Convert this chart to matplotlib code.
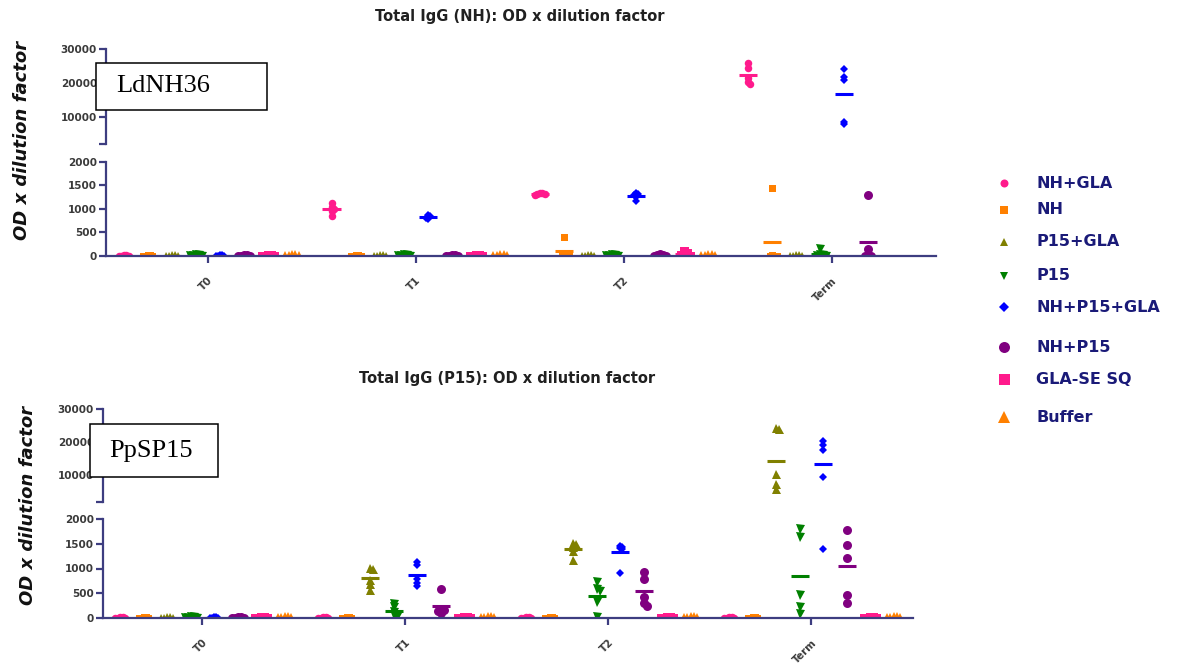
import numpy as np
import matplotlib
matplotlib.use("Agg")
import matplotlib.pyplot as plt
from matplotlib.patches import Rectangle

# ---------------- data ----------------
timepoints = ["T0", "T1", "T2", "Term"]
groups = ["NH+GLA", "NH", "P15+GLA", "P15", "NH+P15+GLA", "NH+P15", "GLA-SE SQ", "Buffer"]

# Total IgG (NH) – each group: list of values per timepoint (T0, T1, T2, Term)
nh_nh_gla   = [[20, 15, 10, 5, 0], [1130, 1050, 1000, 950, 850], [1345, 1330, 1320, 1310, 1300], [25800, 24300, 21500, 20400, 19800]]
nh_nh       = [[20, 15, 10, 5, 0], [20, 15, 10, 5, 0], [400, 40, 30, 20, 10], [1450, 20, 10, 5, 0]]
nh_p15_gla  = [[20, 15, 10, 5, 0], [20, 15, 10, 5, 0], [20, 15, 10, 5, 0], [20, 15, 10, 5, 0]]
nh_p15      = [[20, 15, 10, 5, 0], [20, 15, 10, 5, 0], [20, 15, 10, 5, 0], [150, 30, 20, 10, 5]]
nh_nh_p15_gla = [[20, 15, 10, 5, 0], [880, 850, 830, 810, 780], [1330, 1310, 1290, 1260, 1160], [24100, 21800, 20900, 8500, 7900]]
nh_nh_p15   = [[20, 15, 10, 5, 0], [20, 15, 10, 5, 0], [40, 30, 20, 10, 5], [1300, 150, 20, 5, 0]]
nh_gla_se   = [[20, 15, 10, 5, 0], [20, 15, 10, 5, 0], [110, 70, 40, 20, 10], []]
nh_buffer   = [[20, 15, 10, 5, 0], [20, 15, 10, 5, 0], [20, 15, 10, 5, 0], []]

# Total IgG (P15)
p15_nh_gla   = [[20, 15, 10, 5, 0], [20, 15, 10, 5, 0], [20, 15, 10, 5, 0], [20, 15, 10, 5, 0]]
p15_nh       = [[20, 15, 10, 5, 0], [20, 15, 10, 5, 0], [20, 15, 10, 5, 0], [20, 15, 10, 5, 0]]
p15_p15_gla  = [[20, 15, 10, 5, 0], [1010, 990, 760, 680, 560], [1520, 1500, 1440, 1350, 1180], [24300, 23900, 10300, 7400, 5900]]
p15_p15      = [[20, 15, 10, 5, 0], [280, 220, 130, 60, 20], [730, 590, 550, 320, 30], [1800, 1640, 470, 220, 80]]
p15_nh_p15_gla = [[20, 15, 10, 5, 0], [1140, 1080, 780, 700, 640], [1460, 1440, 1420, 1400, 900], [20300, 19100, 17700, 9400, 1400]]
p15_nh_p15   = [[20, 15, 10, 5, 0], [580, 190, 170, 140, 110], [930, 790, 420, 300, 250], [1780, 1480, 1210, 470, 300]]
p15_gla_se   = [[20, 15, 10, 5, 0], [20, 15, 10, 5, 0], [20, 15, 10, 5, 0], [20, 15, 10, 5, 0]]
p15_buffer   = [[20, 15, 10, 5, 0], [20, 15, 10, 5, 0], [20, 15, 10, 5, 0], [20, 15, 10, 5, 0]]

nh_data = [nh_nh_gla, nh_nh, nh_p15_gla, nh_p15, nh_nh_p15_gla, nh_nh_p15, nh_gla_se, nh_buffer]
p15_data = [p15_nh_gla, p15_nh, p15_p15_gla, p15_p15, p15_nh_p15_gla, p15_nh_p15, p15_gla_se, p15_buffer]

BREAK = 2000
lower_ticks = [0, 500, 1000, 1500, 2000]
upper_ticks = [2000, 10000, 20000, 30000]
upper_labels = ["", "10000", "20000", "30000"]

# ---------------- styles ----------------
colors = ["#FF1A8C", "#FF8000", "#808000", "#008000", "#0000FF", "#800080", "#FF1A8C", "#FF8000"]
markers = ["o", "s", "^", "v", "D", "o", "s", "^"]
msizes = [7.5, 7, 9, 9, 6, 9, 9, 10.5]       # px marker size in plot
leg_sizes = [8, 8, 8.5, 8.5, 6.5, 11, 11, 12.5]  # px in legend
axis_col = "#3d3d80"
tick_lab_col = "#3a3a3a"
legend_col = "#1a1a78"

W, H = 1188, 670
fig = plt.figure(figsize=(W / 100, H / 100), dpi=100)


def fax(x0, y0, x1, y1):
    """axes from pixel box (top-left origin)"""
    return fig.add_axes([x0 / W, 1 - y1 / H, (x1 - x0) / W, (y1 - y0) / H])


def px2pt(px):
    return px * 72 / 100


def swarm(vals, ypix, d):
    ys = [ypix(v) for v in vals]
    order = np.argsort(ys)[::-1]
    step = 0.33 * d
    placed, offs = [], np.zeros(len(vals))
    ks = [0]
    for k in range(1, 30):
        ks += [k, -k]
    for i in order:
        for k in ks:
            dx = k * step
            if all(np.hypot(dx - px, ys[i] - py) >= step * 0.999 for px, py in placed):
                break
        placed.append((dx, ys[i]))
        offs[i] = dx
    return offs


def panel(data, xl, xr, y_top, y_ub, y_lt, y_bot, title, title_xy, ylab_xy, box, boxtext, textx):
    ax_u = fax(xl, y_top, xr, y_ub)
    ax_l = fax(xl, y_lt, xr, y_bot)
    xlim = (-0.49, 3.5)
    ppu = (xr - xl) / (xlim[1] - xlim[0])
    hl = y_bot - y_lt
    hu = y_ub - y_top
    gap = y_lt - y_ub

    def ypix(v):
        if v <= BREAK:
            return v / BREAK * hl
        return hl + gap + (v - BREAK) / (30000 - BREAK) * hu

    slot = 0.1155
    for gi, gdata in enumerate(data):
        for ti, vals in enumerate(gdata):
            if len(vals) == 0:
                continue
            vals = np.asarray(vals, dtype=float)
            xc = ti + (gi - 3.5) * slot
            offs = swarm(vals, ypix, msizes[gi]) / ppu
            m = vals.mean()
            for ax, sel, mok in ((ax_u, vals > BREAK, m > BREAK), (ax_l, vals <= BREAK, m <= BREAK)):
                if sel.any():
                    ax.plot(xc + offs[sel], vals[sel], linestyle="none", marker=markers[gi],
                            ms=px2pt(msizes[gi]), mfc=colors[gi], mec=colors[gi], mew=0,
                            zorder=3, clip_on=True)
                if mok:
                    ax.hlines(m, xc - 0.045, xc + 0.045, color=colors[gi], lw=2.2, zorder=3)

    for ax in (ax_u, ax_l):
        ax.set_xlim(*xlim)
        ax.set_facecolor("none")
        for s in ("top", "right"):
            ax.spines[s].set_visible(False)
        ax.spines["left"].set_color(axis_col)
        ax.spines["left"].set_linewidth(1.6)
        ax.tick_params(axis="y", length=5, width=1.6, color=axis_col, labelsize=7.5,
                       labelcolor=tick_lab_col, pad=1.5)
    ax_u.spines["bottom"].set_visible(False)
    ax_u.set_ylim(BREAK, 30000)
    ax_u.set_yticks(upper_ticks)
    ax_u.set_yticklabels(upper_labels)
    ax_u.set_xticks([])
    ax_l.set_ylim(0, BREAK)
    ax_l.set_yticks(lower_ticks)
    ax_l.set_yticklabels([str(t) for t in lower_ticks])
    ax_l.spines["bottom"].set_color(axis_col)
    ax_l.spines["bottom"].set_linewidth(1.6)
    ax_l.spines["bottom"].set_zorder(4)
    ax_l.set_xticks(range(len(timepoints)))
    ax_l.set_xticklabels(timepoints, rotation=45, ha="right", va="top",
                         rotation_mode="anchor")
    ax_l.tick_params(axis="x", length=5, width=1.6, color=axis_col, labelsize=7.5,
                     labelcolor=tick_lab_col, pad=9)
    for ax in (ax_u, ax_l):
        for lab in ax.get_yticklabels() + ax.get_xticklabels():
            lab.set_fontweight("bold")

    fig.text(title_xy[0] / W, 1 - title_xy[1] / H, title, ha="center", va="center",
             fontsize=10.5, fontweight="bold", color="#202020")
    fig.text(ylab_xy[0] / W, 1 - ylab_xy[1] / H, "OD x dilution factor", rotation=90,
             ha="center", va="center", fontsize=13, fontweight="bold", style="italic",
             color="#111111")
    bx0, by0, bx1, by1 = box
    fig.add_artist(Rectangle((bx0 / W, 1 - by1 / H), (bx1 - bx0) / W, (by1 - by0) / H,
                             transform=fig.transFigure, facecolor="white",
                             edgecolor="black", lw=1.1, zorder=5))
    fig.text(textx / W, 1 - (by0 + by1) / 2 / H, boxtext, ha="left", va="center",
             fontsize=19, family="Liberation Serif", color="black", zorder=6)


panel(nh_data, 106, 936, 49, 144, 162, 256, "Total IgG (NH): OD x dilution factor",
      (520, 17), (22, 140), (96, 63, 267, 110), "LdNH36", 116)
panel(p15_data, 103, 913, 409, 502, 519, 618, "Total IgG (P15): OD x dilution factor",
      (507, 378), (28, 505), (90, 424, 218, 477), "PpSP15", 109)

# ---------------- legend ----------------
leg_y = [183, 210, 242, 276, 307, 347, 379, 417]
lax = fig.add_axes([0, 0, 1, 1])
lax.set_xlim(0, W)
lax.set_ylim(H, 0)
lax.axis("off")
lax.set_facecolor("none")
for gi, g in enumerate(groups):
    lax.plot([1004], [leg_y[gi]], linestyle="none", marker=markers[gi],
             ms=px2pt(leg_sizes[gi]), mfc=colors[gi], mec=colors[gi], mew=0)
    lax.text(1036, leg_y[gi], g, ha="left", va="center", fontsize=11.5,
             fontweight="bold", color=legend_col)

fig.savefig("out.png", dpi=100)
